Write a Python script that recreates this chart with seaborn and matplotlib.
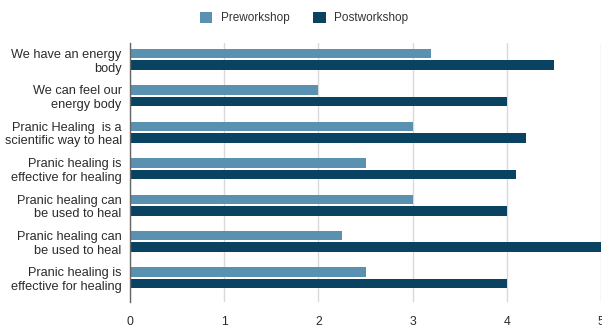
import matplotlib
matplotlib.use("Agg")
import matplotlib.pyplot as plt
import seaborn as sns
import pandas as pd
from matplotlib.patches import Patch

categories = [
    "We have an energy\nbody",
    "We can feel our\nenergy body",
    "Pranic Healing  is a\nscientific way to heal",
    "Pranic healing is\neffective for healing",
    "Pranic healing can\nbe used to heal",
    "Pranic healing can\nbe used to heal",
    "Pranic healing is\neffective for healing",
]
pre = [3.2, 2.0, 3.0, 2.5, 3.0, 2.25, 2.5]
post = [4.5, 4.0, 4.2, 4.1, 4.0, 5.0, 4.0]
series = ["Preworkshop", "Postworkshop"]
colors = ["#5a90b0", "#0a4262"]

rows = []
for i, (a, b) in enumerate(zip(pre, post)):
    rows.append({"item": f"q{i}", "val": a, "series": series[0]})
    rows.append({"item": f"q{i}", "val": b, "series": series[1]})
df = pd.DataFrame(rows)
order = [f"q{i}" for i in range(len(categories))]

sns.set_theme(style="white")
plt.rcParams["font.family"] = ["Liberation Sans", "DejaVu Sans"]

fig = plt.figure(figsize=(6.02, 3.28), dpi=100)
ax = fig.add_axes([130 / 602, 1 - 302 / 328, 471 / 602, (302 - 43) / 328])

sns.barplot(data=df, y="item", x="val", hue="series", palette=colors,
            orient="h", width=0.63, ax=ax, legend=False,
            order=order, hue_order=series, saturation=1)

bar_h = 0.26
for p in ax.patches:
    h = p.get_height()
    p.set_y(p.get_y() + (h - bar_h) / 2)
    p.set_height(bar_h)
    p.set_edgecolor("none")

ax.set_xlim(0, 5)
ax.set_ylim(6.66, -0.446)
ax.set_xticks([0, 1, 2, 3, 4, 5])
ax.set_xticklabels(["0", "1", "2", "3", "4", "5"])
ax.set_yticks(range(len(categories)))
ax.set_yticklabels(categories)
ax.set_xlabel("")
ax.set_ylabel("")
ax.tick_params(axis="both", length=0, colors="#2b2b2b")
ax.tick_params(axis="x", pad=10, labelsize=8.8)
ax.tick_params(axis="y", pad=6, labelsize=9.2)
for lbl in ax.get_yticklabels():
    lbl.set_multialignment("right")
ax.grid(axis="x", color="#d9d9d9", linewidth=1)
ax.set_axisbelow(True)
for s in ["top", "right", "bottom"]:
    ax.spines[s].set_visible(False)
ax.spines["left"].set_color("#666666")
ax.spines["left"].set_linewidth(1)

handles = [Patch(facecolor=c, edgecolor="none") for c in colors]
fig.legend(handles, series, loc="upper center", bbox_to_anchor=(0.505, 0.997),
           ncol=2, frameon=False, fontsize=8.5, handlelength=1.05, handleheight=1.05,
           columnspacing=2.0, handletextpad=0.75, labelcolor="#333333")

fig.savefig("out.png", dpi=100)
